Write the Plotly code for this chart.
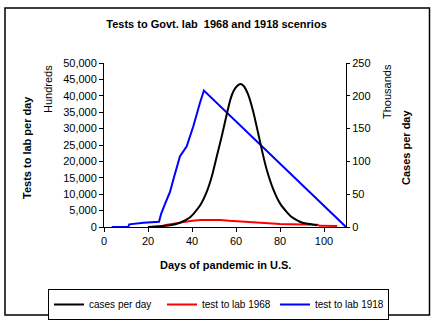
import plotly.graph_objects as go

# cases per day (thousands, right axis)
cases_days = [20, 25, 30, 34.5, 39, 43.5, 46.5, 49, 51, 53.5, 55.8, 57.5, 59, 60.5, 62,
              63.5, 65.5, 67.9, 70, 72.4, 74, 77, 80, 83, 85, 87.6, 90.6, 93.6, 97]
cases_vals = [0, 1, 2.5, 6.5, 14.5, 32, 52, 77, 104, 138, 172, 195, 208, 215, 218,
              215, 202, 175, 144, 108, 87, 57, 36, 23, 16, 10.5, 6, 4.5, 2.5]

# tests to lab, 1968 scenario (left axis)
t1968_days = [25, 28, 31, 34, 37, 40, 44, 48, 53, 57, 62, 66, 71, 75, 80, 85, 90, 97, 98, 106]
t1968_vals = [0, 600, 950, 1300, 1600, 1900, 2150, 2200, 2150, 1900, 1650, 1500, 1300,
              1100, 950, 850, 750, 700, 350, 300]

# tests to lab, 1918 scenario (left axis)
t1918_days = [3.5, 11, 11.5, 18, 25, 26, 27.7, 30, 31.5, 34.5, 37.6, 40.6, 43.6, 45.4, 110]
t1918_vals = [0, 0, 800, 1300, 1600, 4100, 7000, 10700, 14400, 21500, 24600, 30700,
              37800, 41600, 0]

x_ticks = [0, 20, 40, 60, 80, 100]
left_ticks = [0, 5000, 10000, 15000, 20000, 25000, 30000, 35000, 40000, 45000, 50000]
right_ticks = [0, 50, 100, 150, 200, 250]

FONT = "Arial, Liberation Sans, sans-serif"

fig = go.Figure()
fig.add_trace(go.Scatter(x=cases_days, y=cases_vals, name="cases per day", mode="lines",
                         line=dict(color="black", width=2, shape="spline", smoothing=0.6),
                         yaxis="y2"))
fig.add_trace(go.Scatter(x=t1968_days, y=t1968_vals, name="test to lab 1968", mode="lines",
                         line=dict(color="#FF0000", width=2)))
fig.add_trace(go.Scatter(x=t1918_days, y=t1918_vals, name="test to lab 1918", mode="lines",
                         line=dict(color="#0000FF", width=2)))

L, R, T, B = 104, 443 - 346, 63, 322 - 227
pw, ph = 443 - L - R, 322 - T - B

def px(xp):
    return (xp - L) / pw

def py(yp):
    return (322 - B - yp) / ph

fig.update_layout(
    width=443, height=322, autosize=False,
    margin=dict(l=L, r=R, t=T, b=B, pad=0, autoexpand=False),
    paper_bgcolor="white", plot_bgcolor="white",
    font=dict(family=FONT, size=11, color="black"),
    showlegend=True,
    title=dict(text="<b>Tests to Govt. lab  1968 and 1918 scenrios</b>",
               x=216.5 / 443, xanchor="center", xref="container",
               y=1 - 24 / 322, yanchor="middle", yref="container",
               font=dict(family=FONT, size=11, color="black")),
    xaxis=dict(range=[0, 110], tickvals=x_ticks, showgrid=False, zeroline=False,
               showline=True, linecolor="black", linewidth=1,
               ticks="outside", ticklen=4, tickcolor="black",
               tickfont=dict(size=11)),
    yaxis=dict(range=[0, 50000], tickvals=left_ticks, tickformat=",d", showgrid=False,
               zeroline=False, showline=True, linecolor="black", linewidth=1,
               ticks="outside", ticklen=4, tickcolor="black", tickfont=dict(size=11)),
    yaxis2=dict(range=[0, 250], tickvals=right_ticks, overlaying="y", side="right",
                showgrid=False, zeroline=False, showline=True, linecolor="black",
                linewidth=1, ticks="outside", ticklen=3, tickcolor="black",
                tickfont=dict(size=11)),
    yaxis3=dict(range=[0, 250], tickvals=right_ticks, overlaying="y", side="right",
                showgrid=False, zeroline=False, showline=False,
                ticks="inside", ticklen=3, tickcolor="black", showticklabels=False),
    legend=dict(orientation="h", xref="paper", yref="paper",
                x=px(48), xanchor="left", y=py(289), yanchor="top",
                bordercolor="black", borderwidth=1, bgcolor="white",
                font=dict(size=10), itemwidth=30, tracegroupgap=0,
                entrywidth=68, entrywidthmode="pixels"),
)

ann = [
    dict(text="<b>Tests to lab per day</b>", x=px(27), y=py(148), textangle=-90, font=dict(size=11)),
    dict(text="Hundreds", x=px(48), y=py(89), textangle=-90, font=dict(size=11)),
    dict(text="Thousands", x=px(387), y=py(92), textangle=-90, font=dict(size=11)),
    dict(text="<b>Cases per day</b>", x=px(406), y=py(148), textangle=-90, font=dict(size=11)),
    dict(text="<b>Days of pandemic in U.S.</b>", x=px(225), y=py(265), font=dict(size=11)),
]
for a in ann:
    fig.add_annotation(xref="paper", yref="paper", showarrow=False,
                       xanchor="center", yanchor="middle", **a)

fig.add_shape(type="rect", xref="paper", yref="paper",
              x0=px(5), x1=px(429.5), y0=py(315), y1=py(8),
              line=dict(color="black", width=1.5), fillcolor="rgba(0,0,0,0)", layer="above")

fig.write_html("out.html")
